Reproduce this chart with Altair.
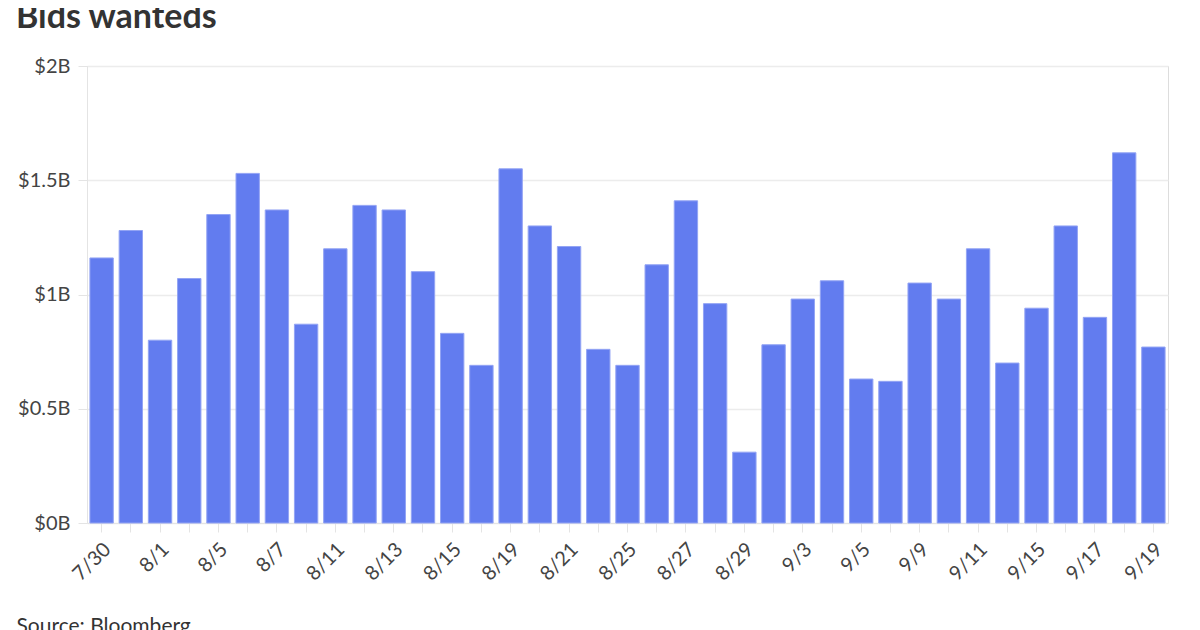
import altair as alt
import pandas as pd

dates = ["7/30", "7/31", "8/1", "8/4", "8/5", "8/6", "8/7", "8/8", "8/11", "8/12",
         "8/13", "8/14", "8/15", "8/18", "8/19", "8/20", "8/21", "8/22", "8/25", "8/26",
         "8/27", "8/28", "8/29", "9/2", "9/3", "9/4", "9/5", "9/8", "9/9", "9/10",
         "9/11", "9/12", "9/15", "9/16", "9/17", "9/18", "9/19"]
values = [1.16, 1.28, 0.80, 1.07, 1.35, 1.53, 1.37, 0.87, 1.20, 1.39,
          1.37, 1.10, 0.83, 0.69, 1.55, 1.30, 1.21, 0.76, 0.69, 1.13,
          1.41, 0.96, 0.31, 0.78, 0.98, 1.06, 0.63, 0.62, 1.05, 0.98,
          1.20, 0.70, 0.94, 1.30, 0.90, 1.62, 0.77]
shown_labels = dates[::2]
y_ticks = [0, 0.5, 1, 1.5, 2]

df = pd.DataFrame({"date": dates, "value": values})

FONT = "Lato"
label_list = "[" + ",".join("'" + d + "'" for d in shown_labels) + "]"

chart = alt.Chart(df).mark_bar(
    color="#627cef", stroke="#93a4f4", strokeWidth=1
).encode(
    x=alt.X("date:N", sort=dates,
            scale=alt.Scale(paddingInner=0.2, paddingOuter=0.1),
            axis=alt.Axis(
                title="Source: Bloomberg",
                titleX=-71, titleY=109, titleAlign="left", titleAnchor="start",
                titleBaseline="alphabetic",
                titleFont=FONT, titleFontSize=21, titleFontWeight="normal", titleColor="#333333",
                labelAngle=-45, labelAlign="right", labelBaseline="middle",
                labelFont=FONT, labelFontSize=20, labelColor="#444444",
                labelExpr="indexof(" + label_list + ", datum.value) >= 0 ? datum.label : ''",
                labelOverlap=False, labelPadding=14, labelOffset=6,
                tickColor="#e4e4e4", tickSize=9, domainColor="#e4e4e4",
                grid=False)),
    y=alt.Y("value:Q", scale=alt.Scale(domain=[0, 2], nice=False),
            axis=alt.Axis(
                title=None, values=y_ticks,
                labelExpr="'$' + datum.value + 'B'",
                labelFont=FONT, labelFontSize=20, labelColor="#444444",
                labelPadding=8,
                tickColor="#e4e4e4", tickSize=9,
                domainColor="#e4e4e4",
                gridColor="#ececec", gridWidth=1.5)),
).properties(
    width=1081, height=457,
    padding={"left": 79, "top": 58, "right": 24, "bottom": 120},
    autosize=alt.AutoSizeParams(type="none"),
    title=alt.TitleParams(
        "Bids wanteds", anchor="start", frame="group", dx=-71, offset=21,
        font=FONT, fontSize=34, fontWeight="bold", color="#333333",
    ),
).configure_view(stroke=None).configure(background="white")

chart.save("out.html", embed_options={"renderer": "svg", "actions": False})
